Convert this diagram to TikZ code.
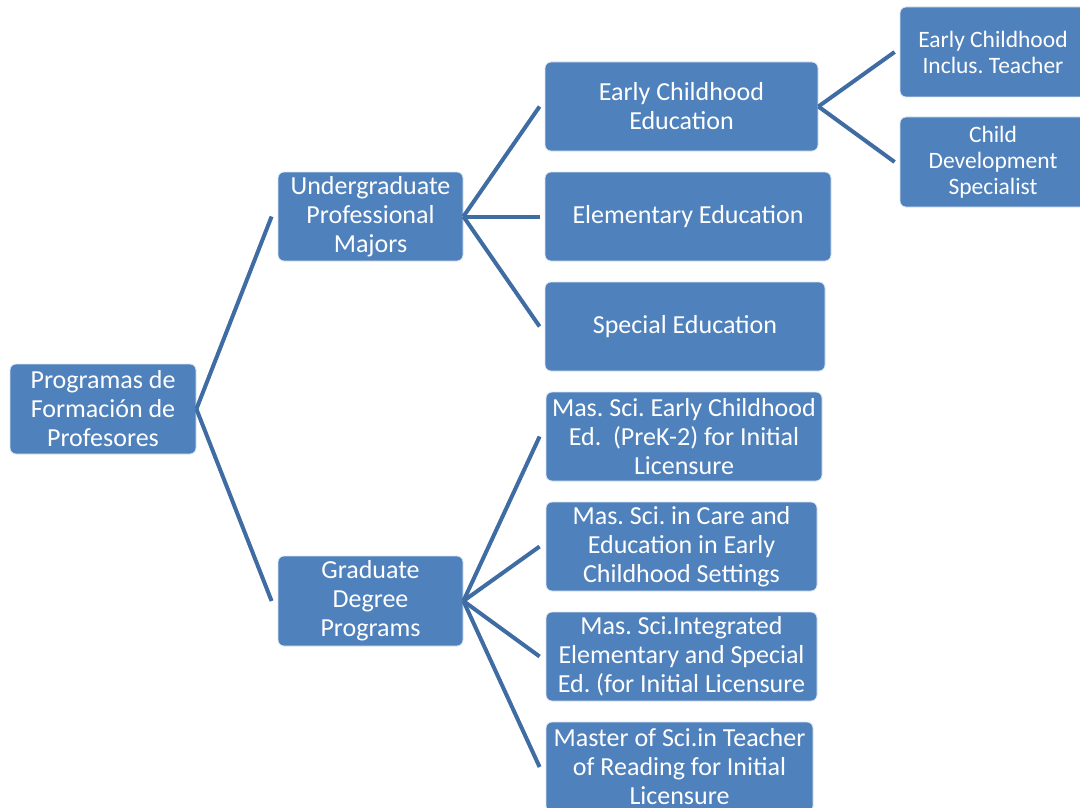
\documentclass[tikz,border=0pt]{standalone}
\usepackage{fontspec}
\setmainfont{Carlito}
\frenchspacing
\definecolor{boxblue}{HTML}{4F81BD}
\definecolor{lineblue}{HTML}{3F6CA3}
\begin{document}
\begin{tikzpicture}[x=1pt,y=-1pt,
  box/.style={rectangle, rounded corners=6pt, fill=boxblue, draw=white!80!boxblue, line width=0.8pt,
    text=white, align=center, inner sep=0pt, font=\fontsize{26}{29}\selectfont},
  smallbox/.style={box, font=\fontsize{23.5}{26}\selectfont},
  conn/.style={draw=lineblue, line width=4pt}]
\clip (0,0) rectangle (1080,808);
\fill[white] (0,0) rectangle (1080,808);
% level 0
\node[box, minimum width=186pt, minimum height=90pt] (root) at (103,409) {Programas de\\Formación de\\Profesores};
% level 1
\node[box, minimum width=185pt, minimum height=89pt] (ug) at (370.5,216.5) {Undergraduate\\Professional\\Majors};
\node[box, minimum width=185pt, minimum height=90pt] (gr) at (370.5,601) {Graduate\\Degree\\Programs};
% level 2
\node[box, minimum width=273pt, minimum height=89pt] (ece) at (681.5,106.5) {Early Childhood\\Education};
\node[box, minimum width=286pt, minimum height=89pt] (ee) at (688,216.5) {Elementary Education};
\node[box, minimum width=280pt, minimum height=89pt] (se) at (685,326.5) {Special Education};
\node[box, minimum width=276pt, minimum height=89pt] (m1) at (684,436.5) {Mas. Sci. Early Childhood\\Ed.\ \ (PreK-2) for Initial\\Licensure};
\node[box, minimum width=271pt, minimum height=89pt] (m2) at (681.5,546.5) {Mas. Sci. in Care and\\Education in Early\\Childhood Settings};
\node[box, minimum width=271pt, minimum height=89pt] (m3) at (681.5,656.5) {Mas. Sci.Integrated\\Elementary and Special\\Ed. (for Initial Licensure};
\node[box, minimum width=267pt, minimum height=90pt] (m4) at (679.5,767) {Master of Sci.in Teacher\\of Reading for Initial\\Licensure};
% level 3
\node[smallbox, minimum width=186pt, minimum height=90pt] (ecit) at (993,52) {Early Childhood\\Inclus. Teacher};
\node[smallbox, minimum width=186pt, minimum height=90pt] (cds) at (993,162) {Child\\Development\\Specialist};
% connectors
\foreach \c in {ug,gr} \draw[conn] (root.east) -- ([xshift=-6pt]\c.west);
\foreach \c in {ece,ee,se} \draw[conn] (ug.east) -- ([xshift=-5pt]\c.west);
\foreach \c in {m1,m2,m3,m4} \draw[conn] (gr.east) -- ([xshift=-6pt]\c.west);
\foreach \c in {ecit,cds} \draw[conn] (ece.east) -- ([xshift=-5pt]\c.west);
\end{tikzpicture}
\end{document}
